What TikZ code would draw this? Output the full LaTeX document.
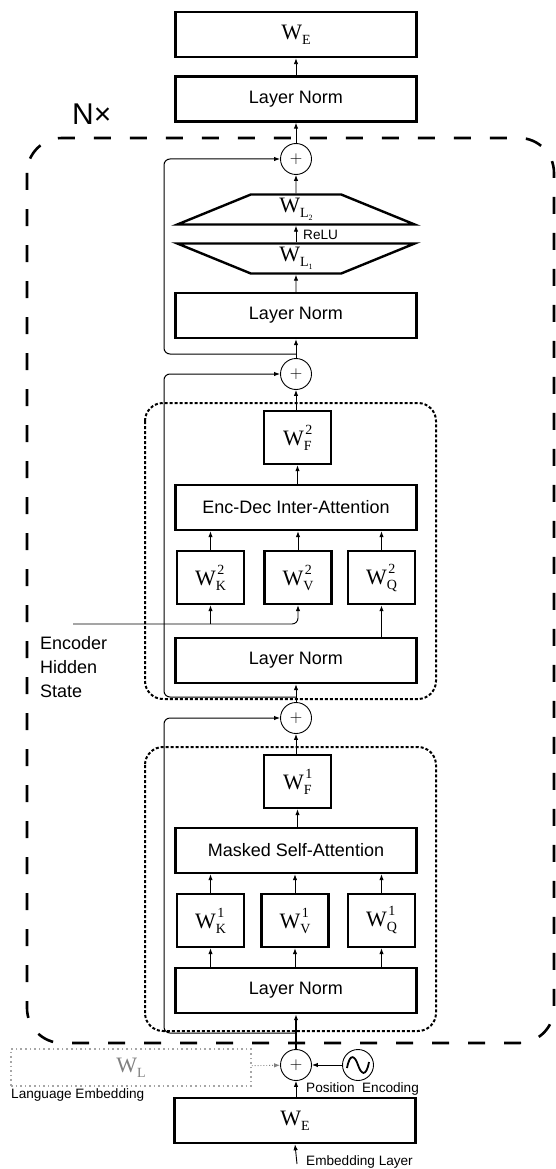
\documentclass[tikz,border=0pt]{standalone}
\usepackage{fontspec}
\setmainfont{Liberation Sans}
\newfontfamily\wfamily{Liberation Serif}
\usetikzlibrary{arrows.meta,shapes.geometric}
\newcommand\wsz{\fontsize{22}{24}\selectfont}
\newcommand\ssz{\fontsize{14}{14}\selectfont}
\newcommand\WSub[1]{{\wfamily\wsz W\raisebox{-5pt}{\ssz #1}}}
\newcommand\WSupSub[2]{{\wfamily\wsz W\rlap{\hspace{1.5pt}\raisebox{11pt}{\ssz #1}}\raisebox{-5pt}{\ssz #2}}}
\newcommand\WLL[1]{{\wfamily\wsz W\raisebox{-5pt}{\ssz L\raisebox{-3pt}{\fontsize{8}{8}\selectfont #1}}}}
\begin{document}
\begin{tikzpicture}[x=1pt,y=-1pt,
  >={Latex[length=6pt,width=4.5pt]},
  blk/.style={draw, line width=2.4pt, minimum width=241pt, minimum height=45pt, inner sep=0pt, font=\fontsize{18}{20}\selectfont},
  wbox/.style={draw, line width=2.4pt, minimum width=67pt, minimum height=53pt, inner sep=0pt},
  plus/.style={draw, circle, line width=0.9pt, minimum size=31pt, inner sep=0pt, font=\fontsize{18}{18}\selectfont},
  trap/.style={draw, trapezium, trapezium angle=39.6, trapezium stretches=true, line width=2.4pt, minimum width=238pt, minimum height=30pt, inner sep=0pt},
  arr/.style={->, line width=0.9pt},
  skipline/.style={->, line width=1pt, rounded corners=6pt},
  lbl/.style={font=\fontsize{13.6}{14}\selectfont, inner sep=0pt, anchor=base west},
  dotbox/.style={line width=2pt, dash pattern=on 3pt off 2pt, rounded corners=18pt},
  nbox/.style={line width=2.6pt, dash pattern=on 17pt off 19pt, rounded corners=35pt}]
\useasboundingbox (0,0) rectangle (555,1169);

% outer N x box and inner dotted boxes
\draw[nbox] (27,138) rectangle (554,1043);
\draw[dotbox] (145,403) rectangle (436,699);
\draw[dotbox] (145,747) rectangle (436,1031);
\node[font=\fontsize{30}{30}\selectfont, anchor=base west, inner sep=0pt] (nx) at (72,125) {N×};

% top
\node[blk] (we1) at (296,34.5) {\WSub{E}};
\node[blk] (ln1) at (296,99) {Layer Norm};
\node[plus] (p1) at (296,159) {$+$};
\node[trap] (wl2) at (296,209.5) {\WLL{2}};
\node[trap, shape border rotate=180] (wl1) at (296,258.5) {\WLL{1}};
\node[blk] (ln2) at (296,315.5) {Layer Norm};
\node[plus] (p2) at (296,374) {$+$};

% enc-dec attention block
\node[wbox] (wf2) at (297.5,437.5) {\WSupSub{2}{F}};
\node[blk] (att2) at (296,507.5) {Enc-Dec Inter-Attention};
\node[wbox] (wk2) at (210.5,577.5) {\WSupSub{2}{K}};
\node[wbox] (wv2) at (298,577.5) {\WSupSub{2}{V}};
\node[wbox] (wq2) at (381.5,577.5) {\WSupSub{2}{Q}};
\node[blk] (ln3) at (296,660.5) {Layer Norm};
\node[plus] (p3) at (296,718) {$+$};

% masked self-attention block
\node[wbox] (wf1) at (297.5,781.5) {\WSupSub{1}{F}};
\node[blk] (att1) at (296,850.5) {Masked Self-Attention};
\node[wbox] (wk1) at (210.5,920.5) {\WSupSub{1}{K}};
\node[wbox] (wv1) at (295,920.5) {\WSupSub{1}{V}};
\node[wbox] (wq1) at (381.5,920.5) {\WSupSub{1}{Q}};
\node[blk] (ln4) at (296,990.5) {Layer Norm};

% input
\node[plus] (p4) at (296,1065) {$+$};
\node[plus] (pe) at (358,1065) {};
\draw[line width=1.8pt] ([shift={(-11,3)}]pe.center) .. controls ([shift={(-8,-13)}]pe.center) and ([shift={(-3,-9)}]pe.center) .. (pe.center) .. controls ([shift={(3,9)}]pe.center) and ([shift={(8,13)}]pe.center) .. ([shift={(11,-3)}]pe.center);
\node[blk] (we2) at (295,1120.5) {\WSub{E}};
\node[draw=gray!70, line width=1.6pt, dash pattern=on 1.6pt off 3pt, minimum width=240pt, minimum height=37pt, inner sep=0pt, text=gray] (wl) at (131,1067.5) {\WSub{L}};

% labels
\node[lbl] (relu) at (303,239) {ReLU};
\node[lbl] (poslbl) at (306,1092) {Position\ \ Encoding};
\node[lbl] (emblbl) at (306,1165) {Embedding Layer};
\node[lbl] (langlbl) at (11,1098) {Language Embedding};
\node[font=\fontsize{18}{24}\selectfont, align=left, anchor=north west, inner sep=0pt] (ehs) at (40,636) {Encoder\\Hidden\\State};

% coordinates
\coordinate (emb) at (297,1164);
\coordinate (enc) at (73,624);
\coordinate (s1) at (296,354);
\coordinate (s2) at (296,697);
\coordinate (s3) at (296,1033);

% main flow
\draw[arr] (emb) -- (we2.south);
\draw[arr] (we2.north -| p4) -- (p4.south);
\draw[->, line width=1.6pt] (p4.north) -- (ln4.south -| p4);
\draw[arr] (pe) -- (p4);
\draw[->, gray, line width=0.9pt, dotted] (wl) -- (p4);
\foreach \w in {wk1,wv1,wq1}{
  \draw[arr] (ln4.north -| \w) -- (\w.south);
  \draw[arr] (\w.north) -- (att1.south -| \w);
}
\draw[arr] (att1.north -| wf1) -- (wf1.south);
\draw[arr] (wf1.north -| p3) -- (p3.south);
\draw[arr] (p3.north) -- (ln3.south -| p3);
\draw[->, line width=1.2pt] (ln3.north -| wq2) -- (wq2.south);
\draw[arr, rounded corners=6pt] (enc) -- (wv2.south |- enc) -- (wv2.south);
\draw[arr] (wk2.south |- enc) -- (wk2.south);
\foreach \w in {wk2,wv2,wq2}{
  \draw[arr] (\w.north) -- (att2.south -| \w);
}
\draw[arr] (att2.north -| wf2) -- (wf2.south);
\draw[arr] (wf2.north -| p2) -- (p2.south);
\draw[arr] (p2.north) -- (ln2.south -| p2);
\draw[arr] (ln2.north -| wl1) -- (wl1.south);
\draw[arr] (wl1.north) -- (wl2.south);
\draw[arr] (wl2.north) -- (p1.south);
\draw[arr] (p1.north) -- (ln1.south -| p1);
\draw[arr] (ln1.north) -- (we1.south);

% residual connections
\draw[skipline] (s1) -- (164,354) -- (164,159) -- (p1.west);
\draw[skipline] (s2) -- (164,697) -- (164,374) -- (p2.west);
\draw[skipline] (s3) -- (164,1033) -- (164,718) -- (p3.west);
\end{tikzpicture}
\end{document}
